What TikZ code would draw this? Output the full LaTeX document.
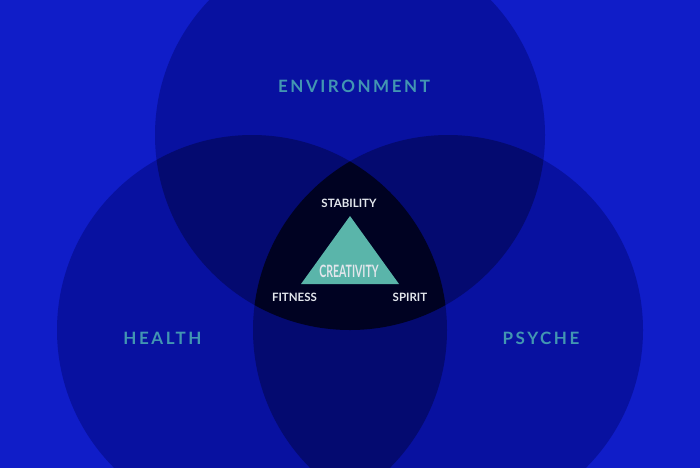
\documentclass[tikz,border=0pt]{standalone}
\usepackage{fontspec}
\setmainfont{Lato}
\newfontfamily\wideLato[LetterSpace=15]{Lato}
\usetikzlibrary{positioning}
\definecolor{bgblue}{RGB}{16,29,200}
\definecolor{oneblue}{RGB}{8,17,160}
\definecolor{twoblue}{RGB}{4,10,112}
\definecolor{threeblue}{RGB}{0,2,34}
\definecolor{labelteal}{RGB}{66,150,178}
\definecolor{triteal}{RGB}{90,181,170}
\definecolor{softwhite}{RGB}{226,230,236}

\begin{document}
\begin{tikzpicture}[x=1pt,y=-1pt]
  \tikzstyle{area label}=[text=labelteal,font=\wideLato\bfseries\fontsize{17}{17}\selectfont]
  \tikzstyle{corner label}=[text=softwhite,font=\bfseries\fontsize{11.5}{12}\selectfont]

  \clip (0,0) rectangle (700,467);
  \fill[bgblue] (-5,-5) rectangle (705,472);

  \coordinate (E) at (350,135);
  \coordinate (H) at (252,330);
  \coordinate (P) at (448,330);

  % single circles
  \foreach \c in {E,H,P}
    \fill[oneblue] (\c) circle (195pt);

  % pairwise overlaps
  \foreach \a/\b in {E/H,E/P,H/P}{
    \begin{scope}
      \clip (\a) circle (195pt);
      \fill[twoblue] (\b) circle (195pt);
    \end{scope}
  }

  % centre
  \begin{scope}
    \clip (E) circle (195pt);
    \clip (H) circle (195pt);
    \fill[threeblue] (P) circle (195pt);
  \end{scope}

  \node[area label] (env)    at (354,86.5) {ENVIRONMENT};
  \node[area label] (health) at (162.5,338) {HEALTH};
  \node[area label] (psyche) at (541,338) {PSYCHE};

  \coordinate (top) at (350,216);
  \coordinate (bl)  at (301,284);
  \coordinate (br)  at (399,284);
  \fill[triteal] (top) -- (bl) -- (br) -- cycle;

  \node[text=softwhite,font=\bfseries\fontsize{17}{17}\selectfont,xscale=0.62] (creat) at (349,271) {CREATIVITY};
  \node[corner label] (stab) at (349,203.5) {STABILITY};
  \node[corner label] (fit)  at (294.5,297.5) {FITNESS};
  \node[corner label] (spir) at (410,297.5) {SPIRIT};
\end{tikzpicture}
\end{document}
